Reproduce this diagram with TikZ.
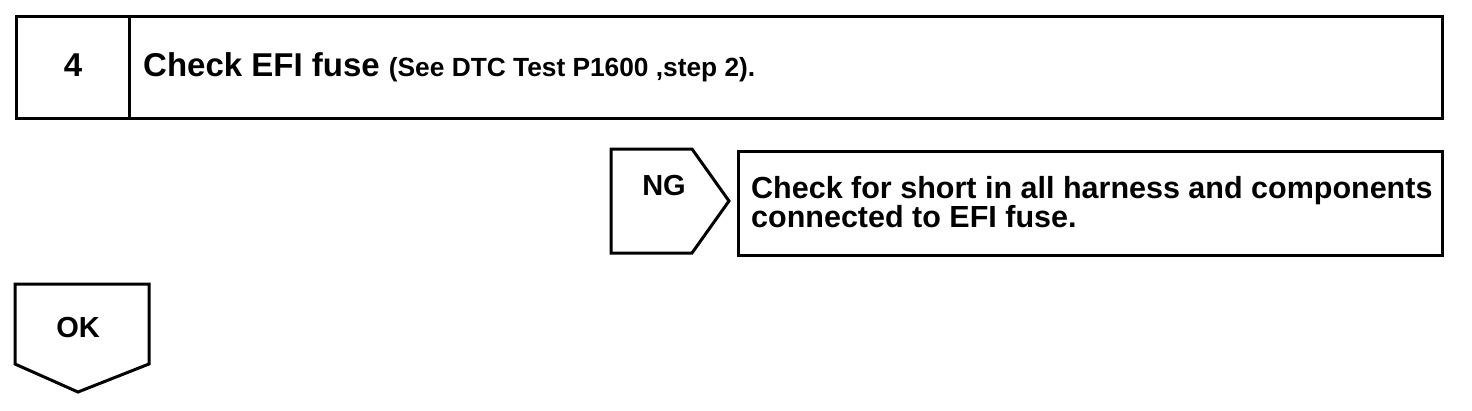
\documentclass[tikz,border=0pt]{standalone}
\usepackage{fontspec}
\setmainfont{Liberation Sans}
\usetikzlibrary{positioning}
\tikzset{
  frame/.style={draw, line width=3pt, line join=miter},
  cell/.style={frame, minimum height=102pt, inner sep=0pt},
  big/.style={font=\fontsize{33}{33}\selectfont\bfseries, inner sep=0pt},
  tag/.style={font=\fontsize{29}{29}\selectfont\bfseries, inner sep=0pt},
  fixtxt/.style={font=\fontsize{30.5}{27}\selectfont\bfseries, inner sep=0pt,
                 align=left},
}
\newcommand{\remark}[1]{{\fontsize{26.3}{26.3}\selectfont #1}}

\begin{document}
\begin{tikzpicture}[x=1pt, y=-1pt]
\useasboundingbox (0,0) rectangle (1472,410);

%% ── step header: number cell + title cell ────────────────────────────
\node[cell, minimum width=113pt, anchor=north west] (num)   at (15,15)  {};
\node[cell, minimum width=1313pt, anchor=north west] (title) at (128,15) {};
\node[big, anchor=base] (numtxt) at (num.center |- 0,76) {4};
\node[big, anchor=base west] (titletxt) at (143,76)
  {Check EFI fuse \remark{(See DTC Test P1600 ,step 2).}};

%% ── NG branch: arrow tag, then the repair box ────────────────────────
\draw[frame] (611,149) -- (692,149) -- (729,201) -- (692,253) -- (611,253) -- cycle;
\node[tag, anchor=base] (ng) at (664,195) {NG};
\node[frame, minimum width=704pt, minimum height=104pt, anchor=north west]
  (fix) at (737,150) {};
\node[fixtxt, anchor=north west] (fixtxt) at (751,176)
  {Check for short in all harness and components\\connected to EFI fuse.};

%% ── OK: down to the next step ────────────────────────────────────────
\draw[frame] (15,284) -- (149,284) -- (149,364) -- (78,392) -- (15,364) -- cycle;
\node[tag, anchor=base] (ok) at (78,337) {OK};

\end{tikzpicture}
\end{document}
